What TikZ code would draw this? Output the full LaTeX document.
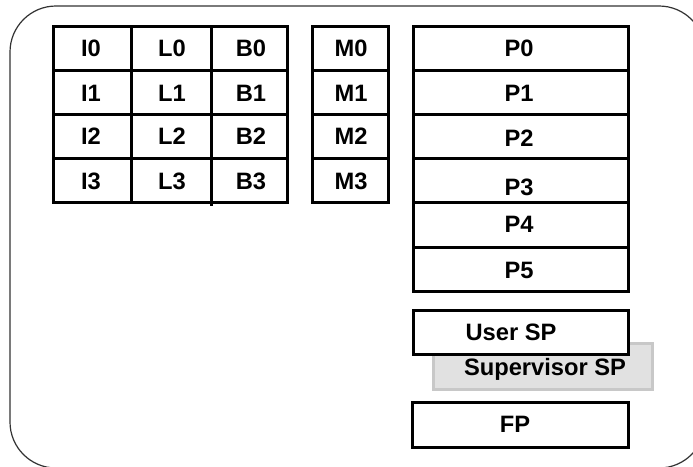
\documentclass[tikz,border=0pt]{standalone}
\usepackage{fontspec}
\setmainfont{Liberation Sans}
\definecolor{spfill}{HTML}{E1E1E1}
\definecolor{spline}{HTML}{C8C8C8}
\begin{document}
\begin{tikzpicture}[x=1pt,y=-1pt,
  cell/.style={draw=black, line width=3pt, fill=white, rectangle, inner sep=0pt, outer sep=0pt},
  lbl/.style={anchor=base, inner sep=0pt, font=\fontsize{23.7}{28}\selectfont\bfseries},
  graybox/.style={draw=spline, line width=3pt, fill=spfill, rectangle, inner sep=0pt, outer sep=0pt},
  frame/.style={draw=black!80, line width=1.2pt, rounded corners=46pt}]
\useasboundingbox (0,0) rectangle (693,466);
\clip (0,0) rectangle (693,466);
\fill[white] (0,0) rectangle (693,466);
\draw[frame] (10,6) rectangle (705,468);

% I / L / B / M grid
\foreach \r/\yc/\yb in {0/48/56.5, 1/92/101, 2/136/144.5, 3/180/189.5} {
  \node[cell, minimum width=78pt, minimum height=44pt] (cI\r) at (92,\yc) {};
  \node[cell, minimum width=80pt, minimum height=44pt] (cL\r) at (171,\yc) {};
  \node[cell, minimum width=76pt, minimum height=44pt] (cB\r) at (249,\yc) {};
  \node[cell, minimum width=76pt, minimum height=44pt] (cM\r) at (350,\yc) {};
  \node[lbl] (tI\r) at (91,\yb) {I\r};
  \node[lbl] (tL\r) at (172,\yb) {L\r};
  \node[lbl] (tB\r) at (251,\yb) {B\r};
  \node[lbl] (tM\r) at (351,\yb) {M\r};
}
\draw[line width=3pt] (cL3.south east) -- ++(0,4);

% P column
\foreach \r/\yc/\h/\yb in {0/48/44/56.5, 1/92/44/101.5, 2/136/44/146, 3/180/44/195, 4/224.5/45/232, 5/269/44/278.5} {
  \node[cell, minimum width=215pt, minimum height=\h pt] (cP\r) at (520.5,\yc) {};
  \node[lbl] (tP\r) at (519,\yb) {P\r};
}

% stack pointers
\node[graybox, minimum width=219pt, minimum height=46pt] (sup) at (542.5,366) {};
\node[cell, minimum width=215pt, minimum height=44pt] (usr) at (520.5,332) {};
\node[lbl] (tusr) at (511,340.5) {User SP};
\node[lbl] (tsup) at (545,375.5) {Supervisor SP};
\node[cell, minimum width=216pt, minimum height=45pt] (fp) at (520,424.5) {};
\node[lbl] (tfp) at (515,432.5) {FP};
\end{tikzpicture}
\end{document}
